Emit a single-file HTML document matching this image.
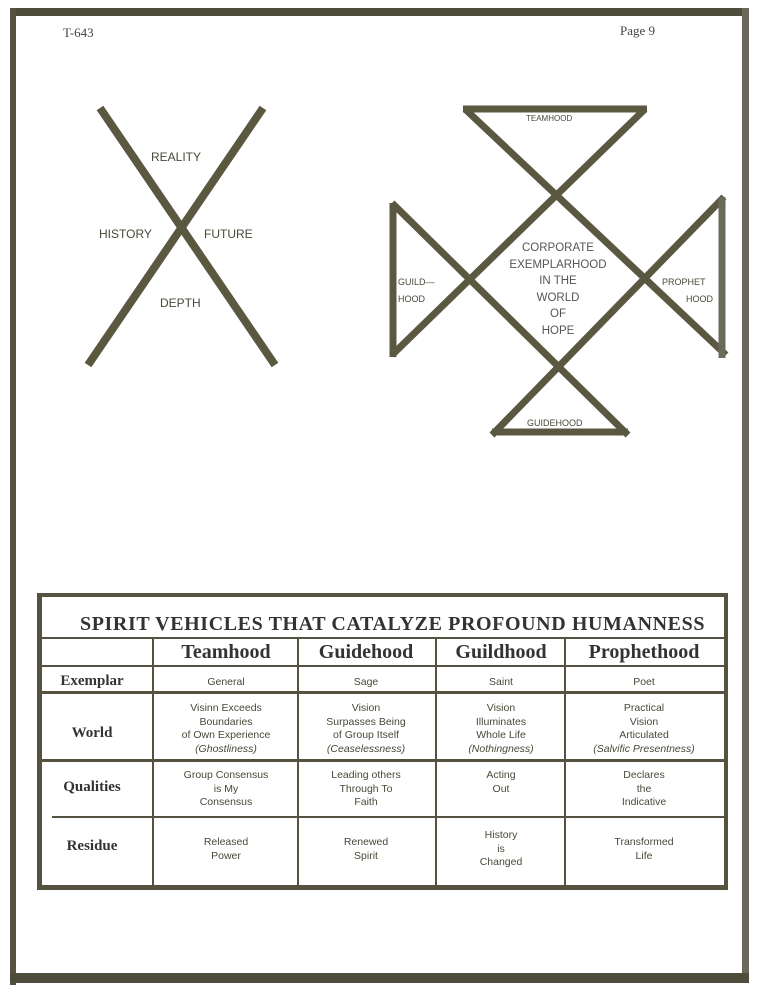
<!DOCTYPE html>
<html><head><meta charset="utf-8"><style>
body{margin:0;width:761px;height:1003px;background:#fff;position:relative;overflow:hidden;font-family:"Liberation Sans",sans-serif;color:#555244}
.a{position:absolute}
.ln{position:absolute;background:#55533f}
.c{position:absolute;text-align:center;font-size:10.5px;line-height:13.5px;color:#4a4838;transform:translateX(-50%);white-space:nowrap}
.h{position:absolute;font-family:"Liberation Serif",serif;font-weight:bold;font-size:20px;color:#333;transform:translateX(-50%);white-space:nowrap}
.r{position:absolute;font-family:"Liberation Serif",serif;font-weight:bold;font-size:15px;color:#333;transform:translateX(-50%);white-space:nowrap}
.lb{position:absolute;font-size:11px;color:#4a4838;white-space:nowrap}
</style></head><body>
<div class="ln" style="left:10px;top:8px;width:739px;height:8px;background:#4e4c3c"></div>
<div class="ln" style="left:10px;top:8px;width:6px;height:977px"></div>
<div class="ln" style="left:742px;top:8px;width:7px;height:970px;background:#6a6858"></div>
<div class="ln" style="left:10px;top:973px;width:739px;height:10px;background:#4e4c3c"></div>
<div class="a" style="left:63px;top:25px;font-family:'Liberation Serif',serif;font-size:13px;color:#444">T-643</div>
<div class="a" style="left:620px;top:23px;font-family:'Liberation Serif',serif;font-size:13px;color:#444">Page 9</div>

<svg class="a" style="left:0;top:0" width="761" height="600">
<defs><clipPath id="cp"><polygon points="463,105 647,105 555,192 645,278 724,195 724,360 645,278 560,368 628,435 492,435 560,368 468,278 392,358 392,201 468,278 555,192"/></clipPath></defs>
<g stroke="#5a5840" stroke-width="8" stroke-linecap="butt" fill="none">
<line x1="100" y1="108" x2="275" y2="365"/>
<line x1="263" y1="108" x2="88" y2="365"/>
</g>
<g stroke="#5a5840" stroke-width="7" fill="none" stroke-linejoin="miter">
<line x1="463" y1="109" x2="647" y2="109"/>
<line x1="465" y1="109" x2="726" y2="355"/>
<line x1="645" y1="109" x2="392" y2="355"/>
<line x1="392" y1="203" x2="628" y2="435"/>
<line x1="724" y1="197" x2="492" y2="435"/>
<line x1="492" y1="432" x2="628" y2="432"/>
<line x1="393" y1="203" x2="393" y2="357"/>
<line x1="722" y1="197" x2="722" y2="358" stroke="#6c6a5a"/>
</g>
</svg>
<div class="lb" style="left:151px;top:150px;font-size:12px">REALITY</div>
<div class="lb" style="left:99px;top:227px;font-size:12px">HISTORY</div>
<div class="lb" style="left:204px;top:227px;font-size:12px">FUTURE</div>
<div class="lb" style="left:160px;top:296px;font-size:12px">DEPTH</div>
<div class="lb" style="left:526px;top:114px;font-size:8px">TEAMHOOD</div>
<div class="c" style="left:558px;top:240px;font-size:11.5px;line-height:16.5px;color:#555">CORPORATE<br>EXEMPLARHOOD<br>IN THE<br>WORLD<br>OF<br>HOPE</div>
<div class="lb" style="left:398px;top:274px;font-size:9px;line-height:17px">GUILD—<br>HOOD</div>
<div class="lb" style="left:662px;top:274px;font-size:9px;line-height:17px">PROPHET<br><span style="padding-left:24px">HOOD</span></div>
<div class="lb" style="left:527px;top:418px;font-size:9px">GUIDEHOOD</div>

<div class="ln" style="left:37px;top:593px;width:691px;height:4px"></div>
<div class="ln" style="left:37px;top:593px;width:5px;height:297px"></div>
<div class="ln" style="left:724px;top:593px;width:4px;height:297px"></div>
<div class="ln" style="left:37px;top:885px;width:691px;height:5px"></div>
<div class="ln" style="left:42px;top:637px;width:682px;height:2px"></div>
<div class="ln" style="left:42px;top:665px;width:682px;height:2px"></div>
<div class="ln" style="left:42px;top:691px;width:682px;height:3px"></div>
<div class="ln" style="left:42px;top:759px;width:682px;height:3px"></div>
<div class="ln" style="left:52px;top:816px;width:672px;height:2px"></div>
<div class="ln" style="left:152px;top:637px;width:2px;height:250px"></div>
<div class="ln" style="left:297px;top:637px;width:2px;height:250px"></div>
<div class="ln" style="left:435px;top:637px;width:2px;height:250px"></div>
<div class="ln" style="left:564px;top:637px;width:2px;height:250px"></div>
<div class="a" style="left:80px;top:613px;font-family:'Liberation Serif',serif;font-weight:bold;font-size:20px;color:#333;letter-spacing:0.6px;white-space:nowrap">SPIRIT VEHICLES THAT CATALYZE PROFOUND HUMANNESS</div>
<div class="h" style="left:226px;top:641px">Teamhood</div>
<div class="h" style="left:366px;top:641px">Guidehood</div>
<div class="h" style="left:501px;top:641px">Guildhood</div>
<div class="h" style="left:644px;top:641px">Prophethood</div>
<div class="r" style="left:92px;top:673px">Exemplar</div>
<div class="r" style="left:92px;top:725px">World</div>
<div class="r" style="left:92px;top:779px">Qualities</div>
<div class="r" style="left:92px;top:838px">Residue</div>
<div class="c" style="left:226px;top:676px">General</div>
<div class="c" style="left:366px;top:676px">Sage</div>
<div class="c" style="left:501px;top:676px">Saint</div>
<div class="c" style="left:644px;top:676px">Poet</div>
<div class="c" style="left:226px;top:702px">Visinn Exceeds<br>Boundaries<br>of Own Experience<br><i>(Ghostliness)</i></div>
<div class="c" style="left:366px;top:702px">Vision<br>Surpasses Being<br>of Group Itself<br><i>(Ceaselessness)</i></div>
<div class="c" style="left:501px;top:702px">Vision<br>Illuminates<br>Whole Life<br><i>(Nothingness)</i></div>
<div class="c" style="left:644px;top:702px">Practical<br>Vision<br>Articulated<br><i>(Salvific Presentness)</i></div>
<div class="c" style="left:226px;top:769px">Group Consensus<br>is My<br>Consensus</div>
<div class="c" style="left:366px;top:769px">Leading others<br>Through To<br>Faith</div>
<div class="c" style="left:501px;top:769px">Acting<br>Out</div>
<div class="c" style="left:644px;top:769px">Declares<br>the<br>Indicative</div>
<div class="c" style="left:226px;top:836px">Released<br>Power</div>
<div class="c" style="left:366px;top:836px">Renewed<br>Spirit</div>
<div class="c" style="left:501px;top:829px">History<br>is<br>Changed</div>
<div class="c" style="left:644px;top:836px">Transformed<br>Life</div>
</body></html>
